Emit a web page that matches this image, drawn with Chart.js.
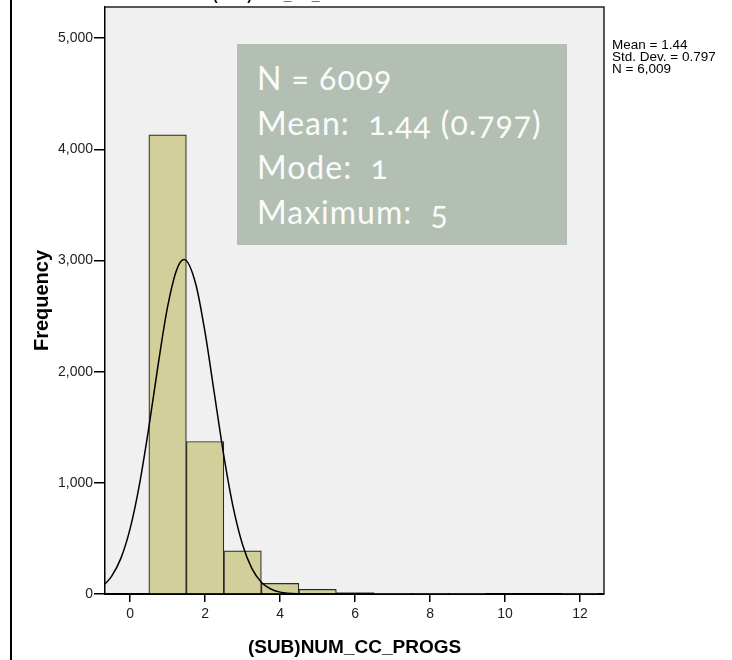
<!DOCTYPE html>
<html>
<head>
<meta charset="utf-8">
<script src="https://cdn.jsdelivr.net/npm/chart.js@4.4.1/dist/chart.umd.min.js"></script>
<style>
  html, body { margin: 0; padding: 0; background: #fff; }
  #wrap { position: relative; width: 732px; height: 660px; }
  #stats {
    position: absolute; left: 237px; top: 44px; width: 330px; height: 201px;
    background: #b3bfb2; color: #fbfbfb; box-sizing: border-box;
    padding: 12px 0 0 20px;
    font-family: Lato, "Open Sans", sans-serif; font-size: 32px; line-height: 44.5px;
    letter-spacing: 1px;
    font-variant-numeric: oldstyle-nums; font-feature-settings: "onum" 1;
    white-space: pre;
  }
</style>
</head>
<body>
<div id="wrap">
  <canvas id="chart"></canvas>
  <div id="stats"></div>
</div>
<script>
// histogramme : centres des classes et effectifs
const binCenters = [1, 2, 3, 4, 5, 6, 7, 8, 9, 10, 11, 12];
const binCounts = [4130, 1372, 388, 95, 42, 12, 1, 1, 1, 0, 0, 1];

// courbe normale, points
const curveX = [-0.67, -0.5, -0.25, 0, 0.25, 0.5, 0.75, 1, 1.25, 1.44, 1.75, 2, 2.25, 2.5, 2.75, 3, 3.25, 3.5, 3.75, 4, 4.5, 5, 6, 8, 10, 12.64];
const curveY = [90, 156, 318, 588, 987, 1500, 2068, 2584, 2924, 3008, 2789, 2350, 1796, 1243, 779, 443, 228, 106, 45, 17, 2, 0, 0, 0, 0, 0];

const xTicks = [0, 2, 4, 6, 8, 10, 12];
const yTicks = [0, 1000, 2000, 3000, 4000, 5000];

const xTitle = "(SUB)NUM_CC_PROGS";
const yTitle = "Frequency";
const sideStats = ["Mean = 1.44", "Std. Dev. = 0.797", "N = 6,009"];
const boxLines = ["N = 6009", "Mean:  1.44 (0.797)", "Mode:  1", "Maximum:  5"];

document.getElementById("stats").textContent = boxLines.join("\n");

const FONT = "'Liberation Sans', Arial, sans-serif";

// fond gris, cadre, ligne de gauche, titre coupé et stats à droite
const decor = {
    id: "decor",
    beforeDraw(chart) {
        const { ctx, chartArea: a } = chart;
        ctx.save();
        ctx.fillStyle = "#f0f0f0";
        ctx.fillRect(a.left, a.top, a.right - a.left, a.bottom - a.top);
        ctx.restore();
    },
    afterDraw(chart) {
        const { ctx, chartArea: a } = chart;
        ctx.save();
        ctx.strokeStyle = "#222";
        ctx.lineWidth = 1.5;
        ctx.beginPath();
        ctx.moveTo(a.left, a.top);
        ctx.lineTo(a.right, a.top);
        ctx.lineTo(a.right, a.bottom);
        ctx.stroke();

        ctx.strokeStyle = "#000";
        ctx.lineWidth = 2;
        ctx.beginPath();
        ctx.moveTo(11, 0);
        ctx.lineTo(11, 660);
        ctx.stroke();

        ctx.fillStyle = "#000";
        ctx.font = "bold 14px " + FONT;
        ctx.textBaseline = "alphabetic";
        ctx.textAlign = "left";
        ctx.fillText(xTitle, 213, 0);

        ctx.font = "13.5px " + FONT;
        sideStats.forEach((t, i) => ctx.fillText(t, 612, 49 + i * 12));
        ctx.restore();
    }
};

new Chart(document.getElementById("chart"), {
    data: {
        datasets: [
            {
                type: "line",
                data: curveX.map((x, i) => ({ x: x, y: curveY[i] })),
                borderColor: "#000",
                borderWidth: 1.5,
                pointRadius: 0,
                cubicInterpolationMode: "monotone",
                order: 0
            },
            {
                type: "bar",
                data: binCenters.map((x, i) => ({ x: x, y: binCounts[i] })),
                backgroundColor: "#d3cf9b",
                borderColor: "#2a2a2a",
                borderWidth: 1.2,
                barPercentage: 1,
                categoryPercentage: 1,
                order: 1
            }
        ]
    },
    options: {
        responsive: true,
        maintainAspectRatio: false,
        animation: false,
        layout: { padding: { top: 7, right: 128, bottom: 0, left: 0 } },
        plugins: { legend: { display: false }, tooltip: { enabled: false } },
        scales: {
            x: {
                type: "linear",
                offset: false,
                min: -0.67,
                max: 12.64,
                afterBuildTicks: s => { s.ticks = xTicks.map(v => ({ value: v })); },
                afterFit: s => { s.height = 66; s.paddingLeft = 0; s.paddingRight = 0; },
                grid: { offset: false, drawOnChartArea: false, drawTicks: true, tickLength: 8, color: "#000", lineWidth: 1.5 },
                border: { display: true, color: "#000", width: 2 },
                ticks: { color: "#222", font: { family: FONT, size: 14 }, padding: 4, maxRotation: 0 },
                title: { display: true, text: xTitle, color: "#000", font: { family: FONT, size: 19, weight: "bold" }, padding: { top: 0, bottom: 1 } }
            },
            y: {
                type: "linear",
                min: 0,
                max: 5280,
                afterBuildTicks: s => { s.ticks = yTicks.map(v => ({ value: v })); },
                afterFit: s => { s.width = 105; s.paddingTop = 0; s.paddingBottom = 0; },
                grid: { drawOnChartArea: false, drawTicks: true, tickLength: 11, color: "#000", lineWidth: 1.5 },
                border: { display: true, color: "#000", width: 1.5 },
                ticks: {
                    color: "#222",
                    font: { family: FONT, size: 14 },
                    padding: 1,
                    callback: v => v.toLocaleString("en-US")
                },
                title: { display: true, text: yTitle, color: "#000", font: { family: FONT, size: 20, weight: "bold" }, padding: { top: 30, bottom: 0 } }
            }
        }
    },
    plugins: [decor]
});
</script>
</body>
</html>
